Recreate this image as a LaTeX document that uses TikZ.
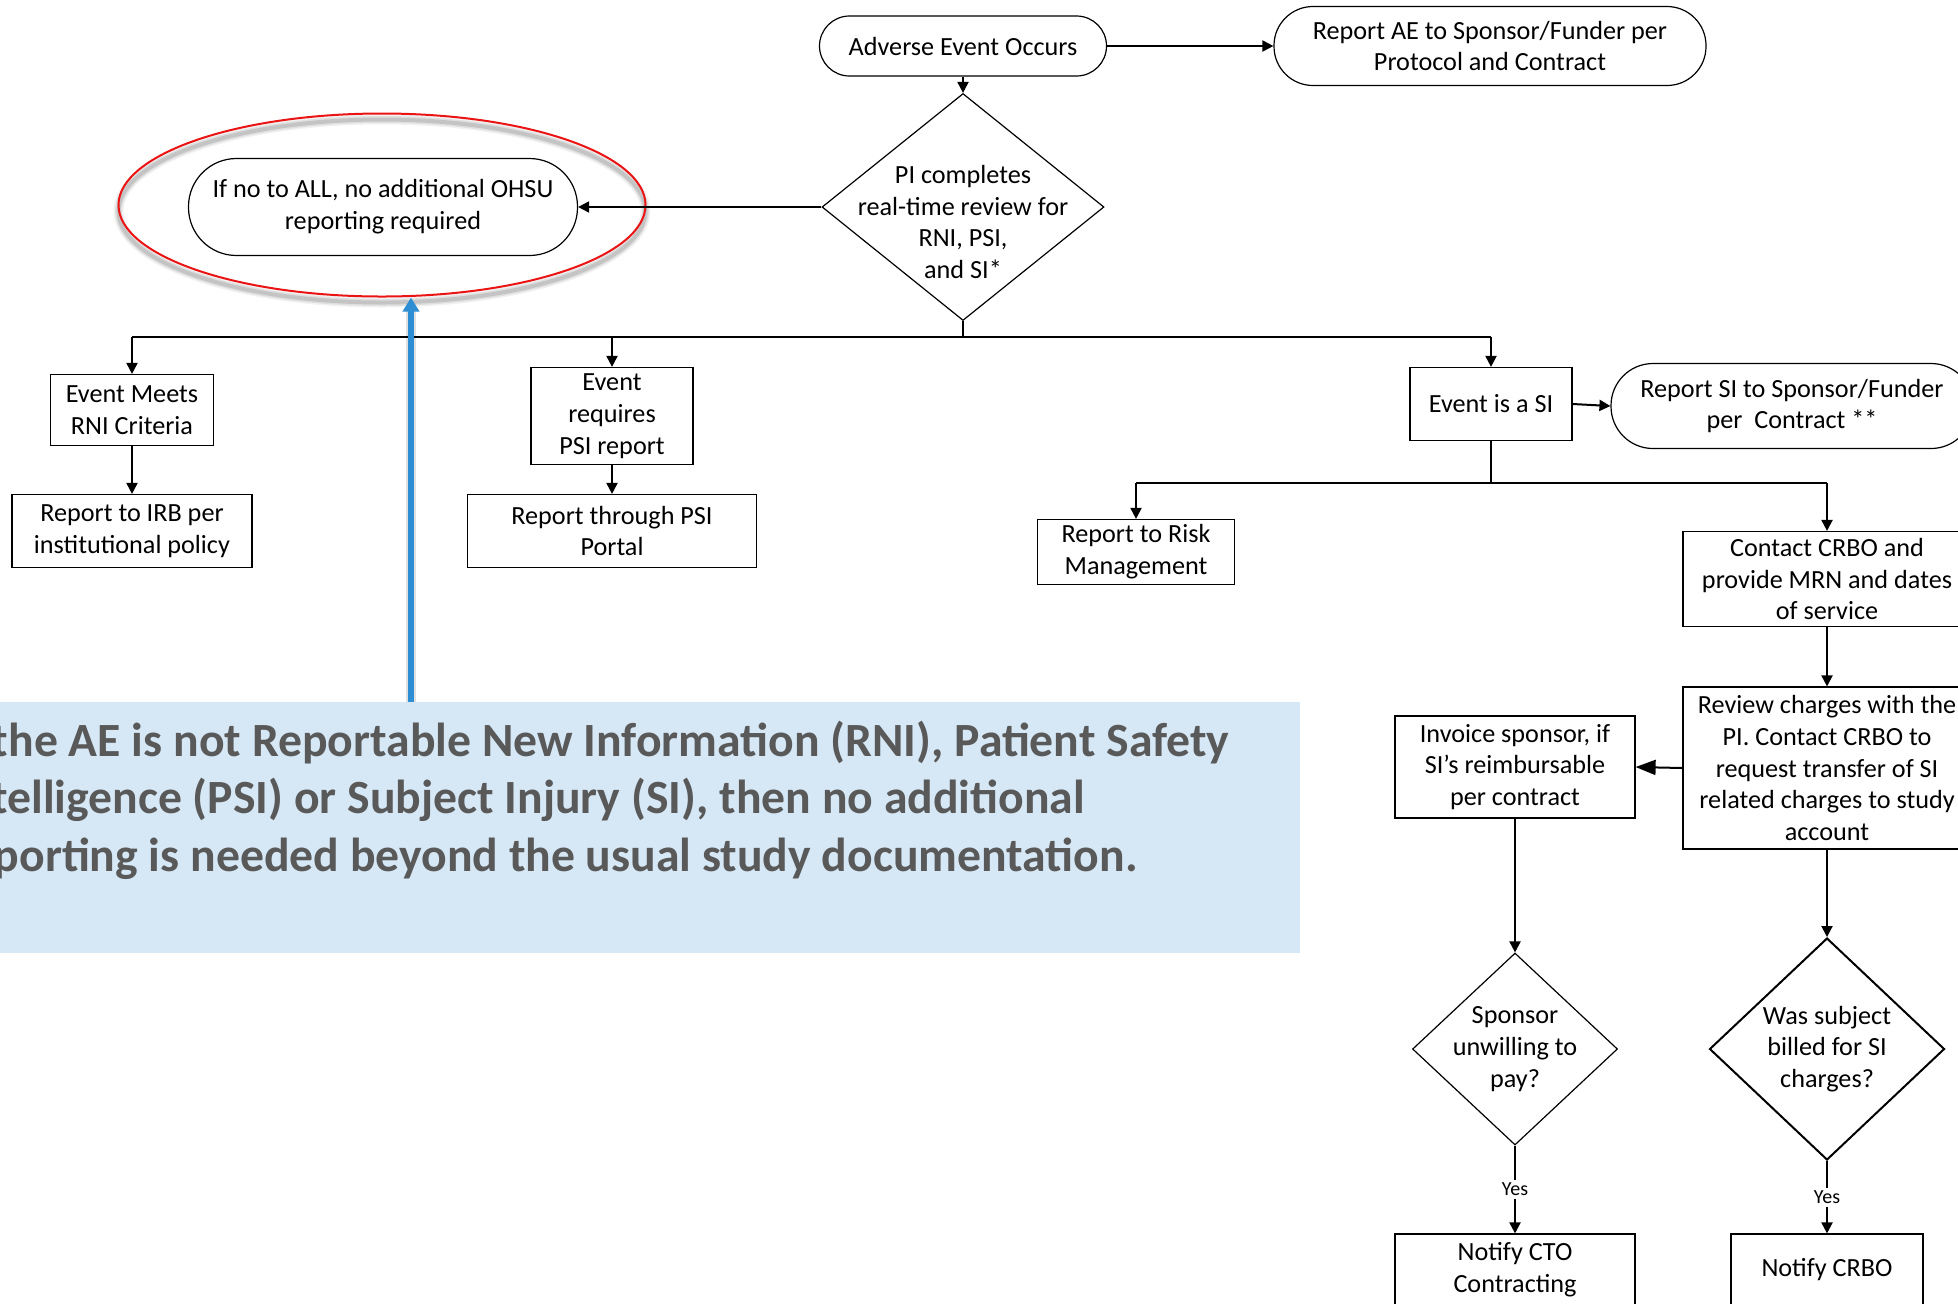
\documentclass[tikz,border=0pt]{standalone}
\usepackage{fontspec}
\setmainfont{Carlito}
\usetikzlibrary{shapes.geometric,arrows.meta}
\definecolor{notefill}{RGB}{214,232,246}
\definecolor{notetext}{RGB}{89,89,89}
\definecolor{pointer}{RGB}{45,142,212}
\definecolor{ringred}{RGB}{235,20,20}
\begin{document}
\begin{tikzpicture}[x=0.5pt,y=-0.5pt,
  every node/.style={font=\fontsize{13.1}{15.9}\selectfont, inner sep=0pt, align=center},
  procbox/.style={draw, line width=0.6pt, rectangle},
  termbox/.style={draw, line width=0.6pt, rectangle, rounded corners=#1},
  decbox/.style={draw, line width=0.6pt, diamond},
  link/.style={line width=1pt},
  arr/.style={link, -{Triangle[length=5.5pt,width=5.5pt]}},
  bigarr/.style={link, -{Triangle[length=10pt,width=7.5pt]}},
  yeslabel/.style={fill=white, inner sep=1.5pt, font=\fontsize{10}{12}\selectfont},
]
\useasboundingbox (0,0) rectangle (1958,1303);
\clip (0,0) rectangle (1958,1303);

% ---- top row ----
\node[termbox=15pt, minimum width=143.5pt, minimum height=30pt] (ae) at (963,46) {Adverse Event Occurs};
\node[termbox=19.5pt, minimum width=216pt, minimum height=39.5pt] (aerep) at (1490,46) {Report AE to Sponsor/Funder per\\Protocol and Contract};

% ---- central review decision ----
\node[decbox, minimum width=141pt, minimum height=113.5pt] (pi) at (963,207) {};
\node (pitext) at (963,222) {PI completes\\real-time review for\\RNI, PSI,\\and SI*};

% ---- "no to all" outcome with highlight ring ----
\foreach \w/\o in {5pt/0.05,3.5pt/0.08,2pt/0.12}
  \draw[black, opacity=\o, line width=\w] (382,211) ellipse [x radius=131.75pt, y radius=45.75pt];
\node[draw=ringred, line width=1pt, ellipse, minimum width=263.5pt, minimum height=91.5pt] (ring) at (382,205) {};
\node[termbox=24pt, minimum width=194.5pt, minimum height=48.5pt] (noall) at (383,207) {If no to ALL, no additional OHSU\\reporting required};

% ---- first tier ----
\node[procbox, minimum width=81.5pt, minimum height=35.5pt] (rni) at (132,410) {Event Meets\\RNI Criteria};
\node[procbox, minimum width=120pt, minimum height=36.5pt] (irb) at (132,531) {Report to IRB per\\institutional policy};
\node[procbox, minimum width=81pt, minimum height=48.5pt] (psi) at (612,416) {Event\\requires\\PSI report};
\node[procbox, minimum width=144.5pt, minimum height=36.5pt] (portal) at (612,531) {Report through PSI\\Portal};
\node[procbox, minimum width=81pt, minimum height=36.5pt] (si) at (1491,404) {Event is a SI};
\node[termbox=21pt, minimum width=181pt, minimum height=42.5pt] (sirep) at (1792,406) {Report SI to Sponsor/Funder\\per~ Contract **};

% ---- subject injury branch ----
\node[procbox, minimum width=98.5pt, minimum height=32.5pt] (risk) at (1136,552) {Report to Risk\\Management};
\node[procbox, minimum width=144pt, minimum height=47.5pt] (crbo) at (1827,579) {Contact CRBO and\\provide MRN and dates\\of service};
\node[procbox, minimum width=144pt, minimum height=81pt] (review) at (1827,768) {Review charges with the\\PI. Contact CRBO to\\request transfer of SI\\related charges to study\\account};
\node[procbox, minimum width=120pt, minimum height=51pt] (invoice) at (1515,767) {Invoice sponsor, if\\SI’s reimbursable\\per contract};

\node[decbox, minimum width=102.5pt, minimum height=96pt] (sponsor) at (1515,1049) {};
\node (sponsortext) at (1515,1049) {Sponsor\\unwilling to\\pay?};
\node[decbox, line width=1pt, minimum width=117.5pt, minimum height=111pt] (was) at (1827,1049) {};
\node (wastext) at (1827,1049) {Was subject\\billed for SI\\charges?};

\node[procbox, minimum width=120pt, minimum height=36pt] (cto) at (1515,1270) {Notify CTO\\Contracting};
\node[procbox, minimum width=96pt, minimum height=36pt] (ncrbo) at (1827,1270) {Notify CRBO};

% ---- connectors ----
\draw[arr] (ae.east) -- (aerep.west);
\draw[arr] (ae.south) -- (pi.north);
\draw[arr] (pi.west) -- (noall.east);

\coordinate (bus) at (963,337);
\draw[link] (pi.south) -- (bus);
\draw[link] (rni.north |- bus) -- (si.north |- bus);
\draw[arr] (rni.north |- bus) -- (rni.north);
\draw[arr] (psi.north |- bus) -- (psi.north);
\draw[arr] (si.north |- bus) -- (si.north);
\draw[arr] (rni.south) -- (irb.north);
\draw[arr] (psi.south) -- (portal.north);
\draw[arr] (si.east) -- (sirep.west);

\coordinate (bus2) at (1491,483);
\draw[link] (si.south) -- (bus2);
\draw[link] (risk.north |- bus2) -- (crbo.north |- bus2);
\draw[arr] (risk.north |- bus2) -- (risk.north);
\draw[arr] (crbo.north |- bus2) -- (crbo.north);
\draw[arr] (crbo.south) -- (review.north);
\draw[bigarr] (review.west) -- (invoice.east);
\draw[arr] (invoice.south) -- (sponsor.north);
\draw[arr] (review.south) -- (was.north);
\draw[arr] (sponsor.south) -- node[yeslabel] (yes1) {Yes} (cto.north);
\draw[arr] (was.south) -- node[yeslabel] (yes2) {Yes} (ncrbo.north);

% ---- explanatory note ----
\node[fill=notefill, minimum width=650pt, minimum height=125.5pt, anchor=north west] (note) at (0,702) {};
\node[anchor=west, align=left, text=notetext, font=\fontsize{23.85}{28.75}\bfseries\selectfont] (notetext) at (-47,800)
  {If the AE is not Reportable New Information (RNI), Patient Safety\\Intelligence (PSI) or Subject Injury (SI), then no additional\\reporting is needed beyond the usual study documentation.};

\coordinate (notepin) at (411,702);
\draw[black, opacity=0.12, line width=5pt] (notepin) -- ([yshift=-6pt]notepin |- ring.south);
\draw[pointer, line width=3pt, -{Triangle[length=7pt,width=8pt]}] (notepin) -- (notepin |- ring.south);
\end{tikzpicture}
\end{document}
